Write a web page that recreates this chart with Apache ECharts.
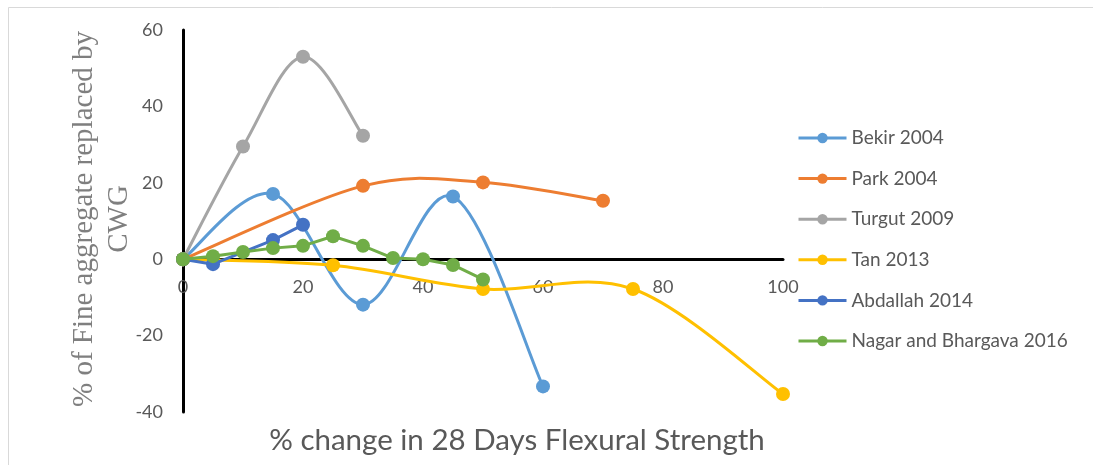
<!DOCTYPE html>
<html>
<head>
<meta charset="utf-8">
<title>Flexural strength vs CWG replacement</title>
<script src="https://cdn.jsdelivr.net/npm/echarts@6/dist/echarts.min.js"></script>
<style>
  html, body { margin: 0; padding: 0; background: #fff; }
  #chart { width: 1093px; height: 465px; }
</style>
</head>
<body>
<div id="chart"></div>
<script>
// [x = % change in 28 day flexural strength, y = % fine aggregate replaced]
var bekir2004 = [[0, 0], [15, 17.1], [30, -11.9], [45, 16.4], [60, -33.3]];
var park2004 = [[0, 0], [30, 19.2], [50, 20.1], [70, 15.3]];
var turgut2009 = [[0, 0], [10, 29.5], [20, 53], [30, 32.3]];
var tan2013 = [[0, 0], [25, -1.6], [50, -7.8], [75, -7.8], [100, -35.3]];
var abdallah2014 = [[0, 0], [5, -1.3], [15, 5], [20, 9]];
var nagar2016 = [[0, 0], [5, 0.8], [10, 1.9], [15, 2.9], [20, 3.5], [25, 6], [30, 3.5],
  [35, 0.3], [40, 0], [45, -1.5], [50, -5.3]];

var seriesNames = ['Bekir 2004', 'Park 2004', 'Turgut 2009', 'Tan 2013', 'Abdallah 2014', 'Nagar and Bhargava 2016'];
var seriesData = [bekir2004, park2004, turgut2009, tan2013, abdallah2014, nagar2016];
var seriesSmooth = [true, true, true, true, false, false];
var colors = ['#5B9BD5', '#ED7D31', '#A5A5A5', '#FFC000', '#4472C4', '#70AD47'];

var xTitle = '% change in 28 Days Flexural Strength';
var yTitle = '% of Fine aggregate replaced by\nCWG';

var labelFont = 'Lato, "Open Sans", sans-serif';

// excel style smoothed line (catmull-rom, no clamping), drawn from the data via api.coord
function smoothRenderer(data, color) {
  return function(params, api) {
    if (params.dataIndex !== 0) return null;
    var pts = data.map(function(d) { return api.coord(d); });
    var segs = [];
    for (var i = 0; i < pts.length - 1; i++) {
      var p0 = pts[Math.max(i - 1, 0)], p1 = pts[i], p2 = pts[i + 1];
      var p3 = pts[Math.min(i + 2, pts.length - 1)];
      segs.push({
        type: 'bezierCurve',
        shape: {
          x1: p1[0], y1: p1[1], x2: p2[0], y2: p2[1],
          cpx1: p1[0] + (p2[0] - p0[0]) / 6, cpy1: p1[1] + (p2[1] - p0[1]) / 6,
          cpx2: p2[0] - (p3[0] - p1[0]) / 6, cpy2: p2[1] - (p3[1] - p1[1]) / 6
        },
        style: { fill: null, stroke: color, lineWidth: 3, lineCap: 'round' }
      });
    }
    return { type: 'group', children: segs };
  };
}

var series = [];
seriesNames.forEach(function(name, i) {
  var smooth = seriesSmooth[i];
  if (smooth) {
    series.push({
      name: name + ' curve',
      type: 'custom',
      data: seriesData[i],
      encode: { x: 0, y: 1 },
      renderItem: smoothRenderer(seriesData[i], colors[i]),
      silent: true,
      z: 2 + i
    });
  }
  series.push({
    name: name,
    type: 'line',
    data: seriesData[i],
    symbol: 'circle',
    symbolSize: 14,
    lineStyle: { width: 3, color: colors[i], opacity: smooth ? 0 : 1 },
    itemStyle: { color: colors[i] },
    z: 2 + i
  });
});

var grid = { left: 183, right: 310, top: 30, bottom: 53 };

var chart = echarts.init(document.getElementById('chart'));

chart.setOption({
  backgroundColor: '#fff',
  animation: false,
  color: colors,
  grid: grid,
  legend: {
    orient: 'vertical',
    left: 792,
    top: 123,
    itemWidth: 48,
    itemHeight: 13,
    itemGap: 20.6,
    data: seriesNames,
    lineStyle: { width: 3, opacity: 1 },
    textStyle: { color: '#595959', fontSize: 19, lineHeight: 20, fontFamily: labelFont }
  },
  xAxis: {
    type: 'value',
    min: 0, max: 100, interval: 20,
    axisLine: { onZero: false, lineStyle: { color: '#000', width: 3 } },
    axisTick: { show: false },
    splitLine: { show: false },
    axisLabel: { color: '#595959', fontSize: 18, margin: 19, fontFamily: labelFont }
  },
  yAxis: {
    type: 'value',
    min: -40, max: 60, interval: 20,
    axisLine: { show: true, onZero: false, lineStyle: { color: '#000', width: 3 } },
    axisTick: { show: false },
    splitLine: { show: false },
    axisLabel: { color: '#595959', fontSize: 18, margin: 20, fontFamily: labelFont }
  },
  graphic: [
    // outer frame, only its top and left edges fall inside the picture
    { type: 'rect', silent: true, z: -1,
      shape: { x: 8.5, y: 7.5, width: 1200, height: 600 },
      style: { fill: 'none', stroke: '#d9d9d9', lineWidth: 1 } },
    { type: 'text', silent: true,
      x: 517, y: 440,
      style: { text: xTitle, fill: '#595959', font: '29.5px ' + labelFont,
        textAlign: 'center', textVerticalAlign: 'middle' } },
    { type: 'text', silent: true,
      x: 102, y: 219, rotation: Math.PI / 2,
      style: { text: yTitle, fill: '#7f7f7f', font: '29px "Liberation Serif", serif',
        lineHeight: 35, textAlign: 'center', textVerticalAlign: 'middle' } }
  ],
  series: series
});

// move the x axis (line + labels) up to y = 0
var zeroY = chart.convertToPixel({ yAxisIndex: 0 }, 0);
var bottomY = chart.getHeight() - grid.bottom;
chart.setOption({ xAxis: { offset: zeroY - bottomY } });
</script>
</body>
</html>
